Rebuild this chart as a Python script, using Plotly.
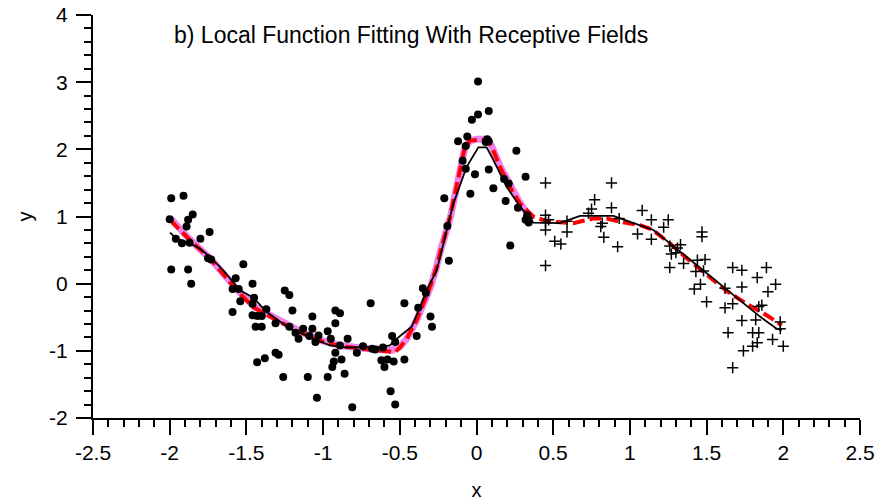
import plotly.graph_objects as go

# ---- data ----
dots_x = [-1.99, -1.91, -2.00, -1.85, -1.88, -1.89, -1.74, -1.80, -1.96, -1.92, -1.87, -1.75, -1.73,
          -1.99, -1.88, -1.86, -1.52, -1.57, -1.59, -1.55, -1.46, -1.45, -1.54, -1.46, -1.37, -1.59,
          -1.46, -1.43, -1.40, -1.44, -1.40, -1.31, -1.43, -1.38, -1.31, -1.29, -1.25, -1.22, -1.20,
          -1.22, -1.18, -1.16, -1.13, -1.07, -1.07, -1.09, -1.05, -1.03, -0.97, -0.95, -0.92, -0.89,
          -0.92, -0.84, -0.89, -0.92, -0.88, -0.93, -0.94, -0.86, -0.97, -1.10, -1.26, -1.04, -0.81,
          -0.69, -0.78, -0.74, -0.68, -0.66, -0.61, -0.62, -0.58, -0.60, -0.54, -0.55, -0.53, -0.47,
          -0.47, -0.56, -0.53, -0.38, -0.39, -0.30, -0.29, -0.35, -0.33, -0.18, -0.21, -0.19, 0.01,
          0.01, -0.03, 0.08, -0.12, -0.06, -0.07, 0.07, 0.08, 0.06, 0.26, -0.09, -0.07, 0.08, -0.01,
          0.32, -0.04, 0.11, 0.18, 0.21, 0.19, 0.27, 0.22, 0.33, 0.34, 0.32, 0.34]
dots_y = [1.27, 1.31, 0.96, 1.03, 0.95, 0.85, 0.77, 0.67, 0.67, 0.60, 0.61, 0.38, 0.36,
          0.21, 0.21, 0.00, 0.29, 0.08, -0.08, -0.08, 0.00, -0.21, -0.26, -0.30, -0.38, -0.42,
          -0.47, -0.48, -0.48, -0.64, -0.64, -0.59, -1.17, -1.11, -1.03, -1.06, -0.10, -0.17, -0.40,
          -0.64, -0.73, -0.82, -0.67, -0.49, -0.67, -0.78, -0.87, -0.77, -0.71, -0.82, -0.40, -0.44,
          -0.59, -0.82, -0.92, -1.03, -1.13, -1.16, -1.24, -1.34, -1.39, -1.39, -1.39, -1.70, -1.84,
          -0.29, -1.03, -0.93, -0.97, -0.98, -0.95, -1.14, -1.13, -1.24, -1.16, -0.78, -0.87, -1.13,
          -0.29, -1.60, -1.80, -0.36, -0.78, -0.49, -0.64, -0.07, -0.14, 0.34, 1.27, 0.86, 3.01,
          2.52, 2.44, 2.57, 2.12, 2.19, 2.05, 2.15, 2.12, 2.11, 1.98, 1.83, 1.71, 1.70, 1.63,
          1.59, 1.34, 1.42, 1.56, 1.49, 1.23, 1.13, 0.57, 1.02, 0.96, 0.95, 0.91]

cross_x = [0.45, 0.45, 0.45, 0.47, 0.45, 0.51, 0.55, 0.59, 0.59, 0.45, 0.88, 0.77, 0.75, 0.73,
           0.88, 0.82, 0.81, 0.83, 0.92, 0.93, 1.08, 1.14, 1.25, 1.22, 1.05, 1.14, 1.47, 1.47,
           1.26, 1.31, 1.33, 1.27, 1.30, 1.35, 1.26, 1.44, 1.49, 1.43, 1.48, 1.46, 1.42, 1.50,
           1.62, 1.67, 1.73, 1.73, 1.83, 1.89, 1.95, 1.90, 1.62, 1.67, 1.84, 1.86, 1.73, 1.82,
           1.98, 1.98, 1.64, 1.80, 1.84, 1.83, 1.80, 1.93, 2.00, 1.74, 1.67]
cross_y = [1.50, 1.02, 0.91, 0.95, 0.80, 0.63, 0.59, 0.93, 0.77, 0.27, 1.50, 1.25, 1.11, 1.05,
           1.13, 0.90, 0.85, 0.69, 0.55, 0.97, 1.09, 0.95, 0.95, 0.84, 0.74, 0.66, 0.77, 0.70,
           0.56, 0.53, 0.58, 0.44, 0.46, 0.30, 0.24, 0.35, 0.36, 0.18, 0.19, -0.01, -0.08, -0.27,
           -0.07, 0.24, 0.20, -0.05, 0.09, 0.24, -0.01, -0.12, -0.36, -0.30, -0.34, -0.32, -0.55, -0.54,
           -0.57, -0.67, -0.73, -0.73, -0.73, -0.88, -0.93, -0.83, -0.93, -1.00, -1.25]

true_x = [-1.99, -1.87, -1.73, -1.56, -1.45, -1.28, -1.15, -1.02, -0.89, -0.74, -0.63, -0.55,
          -0.50, -0.455, -0.39, -0.347, -0.30, -0.26, -0.24, -0.17, -0.11, -0.075, -0.04, 0.0,
          0.066, 0.099, 0.153, 0.218, 0.284, 0.33]
true_y = [0.96, 0.66, 0.36, -0.09, -0.34, -0.56, -0.71, -0.84, -0.92, -0.96, -0.98, -0.99,
          -0.94, -0.82, -0.54, -0.30, -0.05, 0.25, 0.45, 0.99, 1.69, 2.04, 2.13, 2.15,
          2.15, 2.05, 1.75, 1.45, 1.20, 1.05]

red_x = [-1.99, -1.977, -1.868, -1.726, -1.563, -1.455, -1.281, -1.151, -1.020, -0.890, -0.738,
         -0.629, -0.531, -0.499, -0.455, -0.390, -0.347, -0.303, -0.259, -0.238, -0.173, -0.112,
         -0.075, -0.042, 0.001, 0.066, 0.099, 0.153, 0.218, 0.284, 0.370, 0.458, 0.544, 0.631,
         0.761, 0.849, 0.935, 1.066, 1.142, 1.261, 1.370, 1.501, 1.631, 1.761, 1.892, 1.990]
red_y = [0.95, 0.90, 0.65, 0.35, -0.10, -0.35, -0.57, -0.72, -0.85, -0.93, -0.97,
         -1.00, -1.02, -0.95, -0.82, -0.54, -0.30, -0.05, 0.25, 0.45, 0.99, 1.69,
         2.04, 2.13, 2.14, 2.14, 2.04, 1.74, 1.44, 1.19, 1.00, 0.93, 0.91, 0.90,
         0.97, 0.97, 0.92, 0.87, 0.81, 0.60, 0.38, 0.13, -0.11, -0.30, -0.47, -0.62]

fit_x = [-1.998, -1.954, -1.868, -1.802, -1.737, -1.651, -1.542, -1.455, -1.368, -1.259, -1.216,
         -1.064, -0.955, -0.846, -0.716, -0.629, -0.564, -0.531, -0.466, -0.422, -0.368, -0.325,
         -0.259, -0.151, -0.064, 0.012, 0.066, 0.099, 0.197, 0.284, 0.370, 0.458, 0.544, 0.588,
         0.675, 0.849, 0.892, 1.001, 1.153, 1.261, 1.370, 1.501, 1.609, 1.718, 1.848, 1.957, 1.990]
fit_y = [0.76, 0.67, 0.60, 0.52, 0.40, 0.20, -0.10, -0.21, -0.42, -0.59, -0.67,
         -0.82, -0.92, -0.95, -0.95, -0.94, -0.92, -0.84, -0.72, -0.64, -0.35, -0.10,
         0.20, 1.19, 1.74, 2.03, 2.03, 1.89, 1.44, 1.15, 0.91, 0.90, 0.90, 0.94,
         1.01, 1.01, 1.01, 0.92, 0.80, 0.60, 0.40, 0.15, -0.05, -0.25, -0.49, -0.67, -0.69]

x_tickvals = [-2.5, -2, -1.5, -1, -0.5, 0, 0.5, 1, 1.5, 2, 2.5]
x_ticktext = ["-2.5", "-2", "-1.5", "-1", "-0.5", "0", "0.5", "1", "1.5", "2", "2.5"]
y_tickvals = [-2, -1, 0, 1, 2, 3, 4]
y_ticktext = ["-2", "-1", "0", "1", "2", "3", "4"]

title_text = "b) Local Function Fitting With Receptive Fields"

FONT = "Liberation Sans, Arial, sans-serif"

fig = go.Figure()
fig.add_trace(go.Scatter(x=true_x, y=true_y, mode="lines",
                         line=dict(color="#ee82ee", width=7), showlegend=False))
fig.add_trace(go.Scatter(x=red_x, y=red_y, mode="lines",
                         line=dict(color="#ff0000", width=4, dash="12px,5px"), showlegend=False))
fig.add_trace(go.Scatter(x=fit_x, y=fit_y, mode="lines",
                         line=dict(color="black", width=1.8), showlegend=False))
fig.add_trace(go.Scatter(x=dots_x, y=dots_y, mode="markers",
                         marker=dict(symbol="circle", size=8, color="black"), showlegend=False))
fig.add_trace(go.Scatter(x=cross_x, y=cross_y, mode="markers",
                         marker=dict(symbol="cross-thin", size=8,
                                     line=dict(color="black", width=1.5)), showlegend=False))

axis_common = dict(showline=True, linecolor="black", linewidth=2, ticks="outside",
                   ticklen=15, tickwidth=2, tickcolor="black", showgrid=False, zeroline=False,
                   automargin=False,
                   tickfont=dict(family=FONT, size=21, color="black"))

fig.update_layout(
    template="none",
    width=882, height=503,
    margin=dict(l=93, r=22, t=15, b=85, pad=0),
    paper_bgcolor="white", plot_bgcolor="white",
    font=dict(family=FONT, color="black"),
    xaxis=dict(range=[-2.5, 2.5], tickmode="array", tickvals=x_tickvals, ticktext=x_ticktext,
               minor=dict(tick0=0, dtick=0.1, ticklen=7, tickwidth=2, tickcolor="black", ticks="outside"),
               ticklabelstandoff=0,
               title=dict(text="x", font=dict(family=FONT, size=20), standoff=20),
               **axis_common),
    yaxis=dict(range=[-2, 4], tickmode="array", tickvals=y_tickvals, ticktext=y_ticktext,
               minor=dict(tick0=0, dtick=0.2, ticklen=7, tickwidth=2, tickcolor="black", ticks="outside"),
               ticklabelstandoff=4,
               title=dict(text="y", font=dict(family=FONT, size=20), standoff=11),
               **axis_common),
    annotations=[dict(text=title_text, xref="paper", yref="paper", x=0.103, y=0.95,
                      xanchor="left", yanchor="middle", showarrow=False,
                      font=dict(family=FONT, size=23, color="black"))],
)

fig.write_html("out.html")
